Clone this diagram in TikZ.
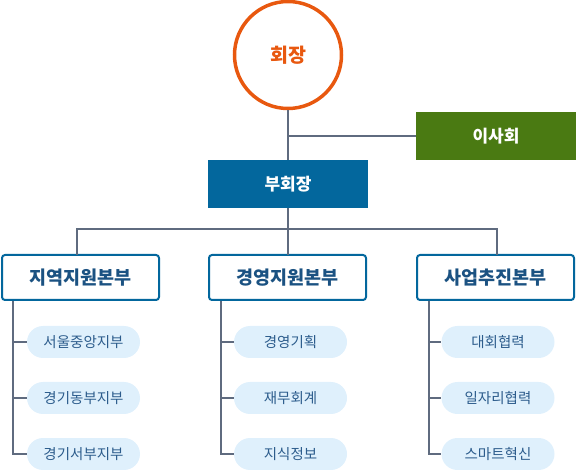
\documentclass[tikz,border=0pt]{standalone}
\usepackage{fontspec}
\setmainfont{Noto Sans CJK KR}
\usetikzlibrary{shapes.misc}

\definecolor{chairorange}{HTML}{E8580F}
\definecolor{boardgreen}{HTML}{4A7A12}
\definecolor{deptblue}{HTML}{03679D}
\definecolor{depttext}{HTML}{1B5282}
\definecolor{linegray}{HTML}{5F6B7F}
\definecolor{pillblue}{HTML}{DFF0FC}
\definecolor{pilltext}{HTML}{2C5C8C}

\tikzset{
  link/.style={draw=linegray, line width=2pt},
  headbox/.style={minimum width=160pt, minimum height=48pt, inner sep=0pt,
    text=white, font=\fontsize{17}{20}\selectfont\bfseries},
  deptbox/.style={draw=deptblue, line width=2pt, fill=white, rounded corners=3pt,
    minimum width=157pt, minimum height=45pt, inner sep=0pt,
    text=depttext, font=\fontsize{18.5}{21}\selectfont\bfseries},
  unitpill/.style={rounded rectangle, fill=pillblue, minimum width=113pt,
    minimum height=32pt, inner sep=0pt, text=pilltext,
    font=\fontsize{14.5}{17}\selectfont},
}

\begin{document}
\begin{tikzpicture}[x=1pt, y=-1pt]
  \useasboundingbox (0,0) rectangle (576,470);

  \node[circle, draw=chairorange, line width=3.5pt, minimum size=107pt, inner sep=0pt,
    text=chairorange, font=\fontsize{19.5}{22}\selectfont\bfseries] (chair) at (288,55) {회장};
  \node[headbox, fill=boardgreen] (board) at (496,136) {이사회};
  \node[headbox, fill=deptblue] (vice) at (288,184) {부회장};

  \coordinate (split) at (288,136);
  \draw[link] (chair.south) -- (vice.north);
  \draw[link] (split) -- (board.west);

  \node[deptbox] (region) at (80.5,277.5) {지역지원본부};
  \node[deptbox] (manage) at (287.5,277.5) {경영지원본부};
  \node[deptbox] (biz) at (495.5,277.5) {사업추진본부};

  \coordinate (fork) at (288,229);
  \draw[link] (vice.south) -- (fork);
  \draw[link] (77,255) |- (fork) -| (497,255);
  \draw[link] (fork) -- (288,255);

  % 지역지원본부
  \node[unitpill] (r1) at (83.5,342) {서울중앙지부};
  \node[unitpill] (r2) at (83.5,398) {경기동부지부};
  \node[unitpill] (r3) at (83.5,454) {경기서부지부};
  \draw[link] (13,301) |- (r3.west);
  \draw[link] (13,342) -- (r1.west);
  \draw[link] (13,398) -- (r2.west);

  % 경영지원본부
  \node[unitpill] (m1) at (290.5,342) {경영기획};
  \node[unitpill] (m2) at (290.5,398) {재무회계};
  \node[unitpill] (m3) at (290.5,454) {지식정보};
  \draw[link] (221,301) |- (m3.west);
  \draw[link] (221,342) -- (m1.west);
  \draw[link] (221,398) -- (m2.west);

  % 사업추진본부
  \node[unitpill] (b1) at (498,342) {대회협력};
  \node[unitpill] (b2) at (498,398) {일자리협력};
  \node[unitpill] (b3) at (498,454) {스마트혁신};
  \draw[link] (429,301) |- (b3.west);
  \draw[link] (429,342) -- (b1.west);
  \draw[link] (429,398) -- (b2.west);
\end{tikzpicture}
\end{document}
